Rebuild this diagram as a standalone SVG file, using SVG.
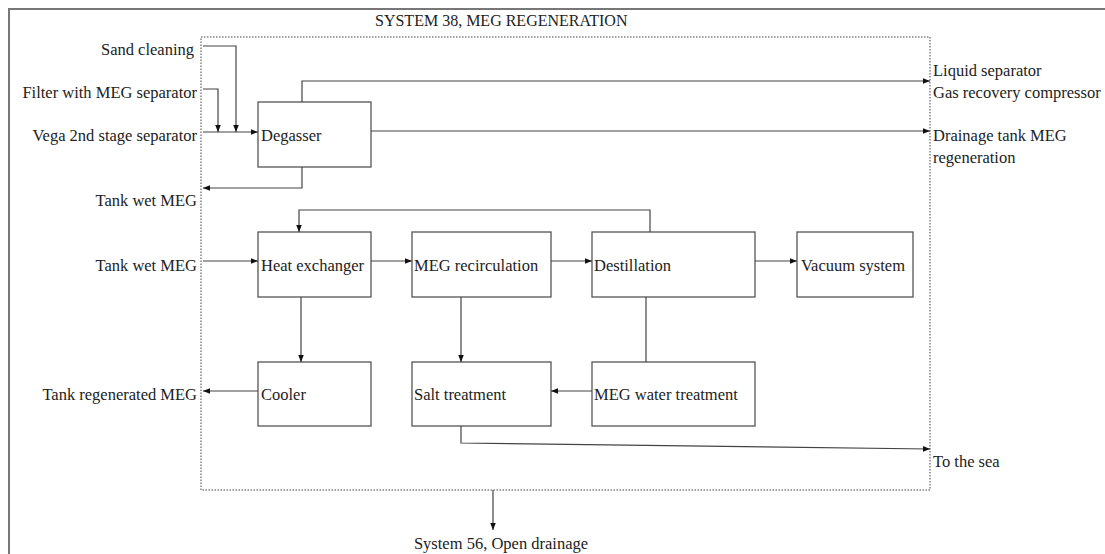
<svg xmlns="http://www.w3.org/2000/svg" width="1105" height="554" viewBox="0 0 1105 554">
<style>
text{font-family:"Liberation Serif","Times New Roman",serif;font-size:16.5px;fill:#222}
.r{text-anchor:end}
.box{fill:#fff;stroke:#555;stroke-width:1.3}
.ln{fill:none;stroke:#444;stroke-width:1.2}
.frame{fill:none;stroke:#777;stroke-width:2}
.dot{fill:none;stroke:#444;stroke-width:1;stroke-dasharray:1.5 1.5}
</style>
<defs>
<marker id="a" viewBox="0 0 10 10" refX="10" refY="5" markerWidth="7" markerHeight="7" markerUnits="userSpaceOnUse" orient="auto"><path d="M0,1 L10,5 L0,9 Z" fill="#111"/></marker>
</defs>
<rect width="1105" height="554" fill="#fff"/>
<path class="frame" d="M9,554 V9 H1105"/>
<rect class="dot" x="201" y="37" width="729" height="453"/>
<text x="375" y="26" style="font-size:16px">SYSTEM 38, MEG REGENERATION</text>

<g id="degasser"><rect class="box" x="258" y="102" width="113" height="65"/><text x="261" y="141">Degasser</text></g>
<g id="heat-exchanger"><rect class="box" x="258" y="232" width="113" height="65"/><text x="261" y="271">Heat exchanger</text></g>
<g id="meg-recirculation"><rect class="box" x="412" y="232" width="139" height="65"/><text x="414" y="271">MEG recirculation</text></g>
<g id="destillation"><rect class="box" x="592" y="232" width="163" height="65"/><text x="594" y="271">Destillation</text></g>
<g id="vacuum-system"><rect class="box" x="797" y="232" width="116" height="65"/><text x="801" y="271">Vacuum system</text></g>
<g id="cooler"><rect class="box" x="258" y="362" width="113" height="64"/><text x="261" y="400">Cooler</text></g>
<g id="salt-treatment"><rect class="box" x="412" y="362" width="139" height="64"/><text x="414" y="400">Salt treatment</text></g>
<g id="meg-water-treatment"><rect class="box" x="592" y="362" width="163" height="64"/><text x="594" y="400">MEG water treatment</text></g>

<g id="labels">
<text class="r" x="194" y="55">Sand cleaning</text>
<text class="r" x="197" y="98">Filter with MEG separator</text>
<text class="r" x="197" y="141">Vega 2nd stage separator</text>
<text class="r" x="197" y="206">Tank wet MEG</text>
<text class="r" x="197" y="271">Tank wet MEG</text>
<text class="r" x="197" y="400">Tank regenerated MEG</text>
<text x="933" y="76">Liquid separator</text>
<text x="933" y="98">Gas recovery compressor</text>
<text x="933" y="141">Drainage tank MEG</text>
<text x="933" y="163">regeneration</text>
<text x="933" y="467">To the sea</text>
<text x="501" y="549" text-anchor="middle">System 56, Open drainage</text>
</g>

<g id="connectors">
<path class="ln" marker-end="url(#a)" d="M203,46 H236 V132"/>
<path class="ln" marker-end="url(#a)" d="M203,89 H218 V132"/>
<path class="ln" marker-end="url(#a)" d="M203,132 H258"/>
<path class="ln" marker-end="url(#a)" d="M302,102 V81 H930"/>
<path class="ln" marker-end="url(#a)" d="M371,131 H930"/>
<path class="ln" marker-end="url(#a)" d="M302,167 V188 H203"/>
<path class="ln" marker-end="url(#a)" d="M650,232 V210 H299 V232"/>
<path class="ln" marker-end="url(#a)" d="M203,261 H258"/>
<path class="ln" marker-end="url(#a)" d="M371,261 H412"/>
<path class="ln" marker-end="url(#a)" d="M551,261 H592"/>
<path class="ln" marker-end="url(#a)" d="M755,261 H797"/>
<path class="ln" marker-end="url(#a)" d="M301,297 V362"/>
<path class="ln" marker-end="url(#a)" d="M461,297 V362"/>
<path class="ln" d="M646,297 V362"/>
<path class="ln" marker-end="url(#a)" d="M592,391 H551"/>
<path class="ln" marker-end="url(#a)" d="M258,391 H203"/>
<path class="ln" marker-end="url(#a)" d="M461,426 V443 L930,449"/>
<path class="ln" marker-end="url(#a)" d="M493,490 V530"/>
</g>
</svg>
